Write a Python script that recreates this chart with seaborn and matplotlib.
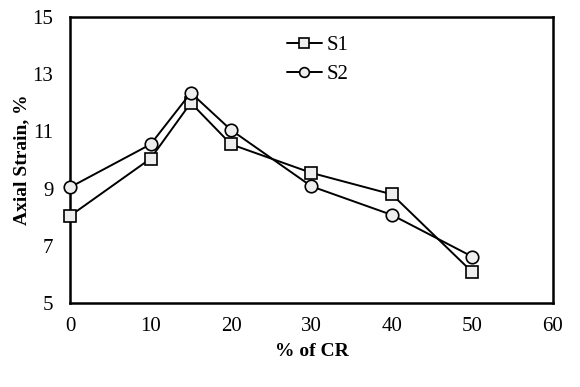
import numpy as np
import pandas as pd
import matplotlib
matplotlib.use("Agg")
import matplotlib.pyplot as plt
import seaborn as sns

# data
cr_pct = [0, 10, 15, 20, 30, 40, 50]
s1_strain = [8.05, 10.05, 12.0, 10.55, 9.55, 8.8, 6.08]
s2_strain = [9.05, 10.55, 12.35, 11.05, 9.08, 8.08, 6.62]

df = pd.DataFrame({
    "cr": cr_pct * 2,
    "strain": s1_strain + s2_strain,
    "series": ["S1"] * len(cr_pct) + ["S2"] * len(cr_pct),
})

sns.set_style("white")
plt.rcParams["font.family"] = ["Liberation Serif", "DejaVu Serif"]
plt.rcParams["text.color"] = "black"
plt.rcParams["axes.labelcolor"] = "black"

fig = plt.figure(figsize=(5.8, 3.87), dpi=100)
ax = fig.add_axes([0.121, 0.217, 0.832, 0.739])

sns.lineplot(data=df, x="cr", y="strain", hue="series", style="series",
             markers={"S1": "s", "S2": "o"}, dashes=False,
             palette={"S1": "black", "S2": "black"},
             markersize=9, markerfacecolor="#eeeeee", markeredgecolor="black",
             markeredgewidth=1.2, linewidth=1.4, ax=ax, clip_on=False, zorder=5)

ax.set_xlim(0, 60)
ax.set_ylim(5, 15)
ax.set_xticks(np.arange(0, 61, 10))
ax.set_yticks(np.arange(5, 16, 2))
ax.tick_params(direction="in", length=5, width=1.5, labelsize=15, colors="black")
ax.tick_params(axis="y", pad=12)
ax.tick_params(axis="x", pad=10)
for side in ax.spines.values():
    side.set_linewidth(1.8)
    side.set_color("black")

ax.set_xlabel("% of CR", fontsize=14, fontweight="bold", labelpad=5)
ax.set_ylabel("Axial Strain, %", fontsize=14, fontweight="bold", labelpad=2)

handles, labels = ax.get_legend_handles_labels()
for h in handles:
    h.set_markersize(7)
    h.set_markerfacecolor("#eeeeee")
    h.set_markeredgecolor("black")
ax.legend(handles, labels, loc="upper left", bbox_to_anchor=(0.41, 1.0),
          frameon=False, fontsize=15, handlelength=1.7, handletextpad=0.2,
          labelspacing=0.45)

fig.savefig("out.png", dpi=100, facecolor="white")
